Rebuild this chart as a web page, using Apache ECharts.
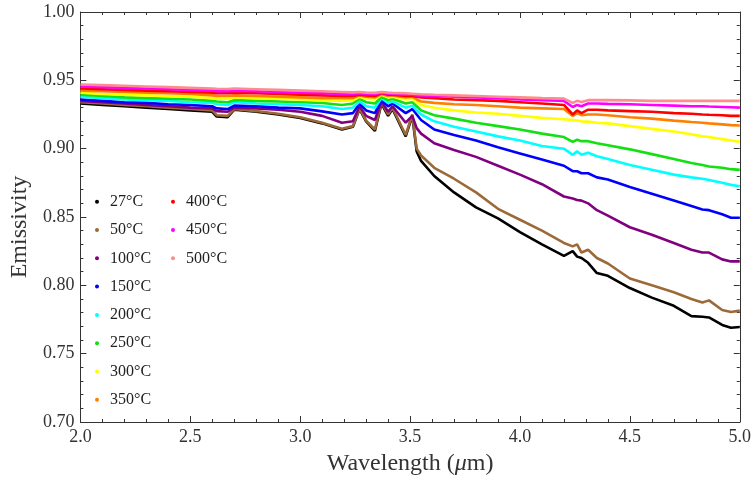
<!DOCTYPE html>
<html>
<head>
<meta charset="utf-8">
<script src="https://cdn.jsdelivr.net/npm/echarts@6/dist/echarts.min.js"></script>
<style>html,body{margin:0;padding:0;background:#fff}#c{width:754px;height:483px}</style>
</head>
<body>
<div id="c"></div>
<script>
const wavelength = [2.00,2.10,2.20,2.30,2.40,2.50,2.60,2.62,2.67,2.70,2.80,2.90,3.00,3.10,3.19,3.24,3.27,3.30,3.34,3.37,3.40,3.42,3.48,3.51,3.53,3.55,3.61,3.70,3.80,3.90,4.00,4.10,4.20,4.24,4.26,4.28,4.31,4.35,4.40,4.50,4.60,4.70,4.78,4.83,4.86,4.92,4.96,5.00];

const e27 = [0.933,0.932,0.931,0.930,0.929,0.928,0.927,0.9235,0.923,0.9285,0.927,0.925,0.9225,0.9185,0.914,0.916,0.929,0.920,0.913,0.933,0.924,0.929,0.909,0.924,0.898,0.891,0.880,0.868,0.857,0.849,0.839,0.830,0.8215,0.825,0.821,0.820,0.8165,0.809,0.807,0.798,0.791,0.785,0.7775,0.777,0.7765,0.771,0.769,0.7695];
const e50 = [0.934,0.933,0.932,0.931,0.930,0.929,0.928,0.9245,0.924,0.929,0.9275,0.9255,0.923,0.919,0.9145,0.9165,0.9295,0.9205,0.914,0.934,0.925,0.930,0.910,0.925,0.900,0.895,0.886,0.878,0.868,0.856,0.848,0.840,0.831,0.8285,0.830,0.824,0.826,0.820,0.816,0.805,0.800,0.795,0.790,0.7875,0.789,0.782,0.7805,0.7815];
const e100 = [0.935,0.934,0.933,0.932,0.931,0.930,0.9295,0.9275,0.927,0.930,0.9295,0.9285,0.927,0.924,0.919,0.920,0.931,0.924,0.921,0.9345,0.927,0.931,0.919,0.924,0.915,0.911,0.904,0.899,0.894,0.8875,0.881,0.874,0.865,0.8635,0.8625,0.862,0.860,0.855,0.851,0.8425,0.837,0.831,0.826,0.824,0.824,0.819,0.8175,0.8175];
const e150 = [0.936,0.935,0.934,0.9335,0.9325,0.932,0.931,0.9295,0.929,0.9315,0.931,0.930,0.9295,0.9273,0.925,0.926,0.933,0.928,0.926,0.9355,0.931,0.933,0.926,0.929,0.925,0.921,0.914,0.910,0.906,0.901,0.8965,0.892,0.8875,0.8835,0.8835,0.882,0.882,0.879,0.8775,0.872,0.867,0.862,0.858,0.8555,0.855,0.852,0.8495,0.8495];
const e200 = [0.938,0.937,0.936,0.9355,0.935,0.934,0.9335,0.9325,0.932,0.934,0.933,0.9325,0.932,0.931,0.929,0.930,0.9345,0.931,0.930,0.937,0.9335,0.9345,0.930,0.9315,0.928,0.925,0.920,0.916,0.9125,0.909,0.906,0.902,0.900,0.8955,0.898,0.8955,0.897,0.8945,0.8925,0.888,0.8845,0.881,0.879,0.878,0.877,0.875,0.8735,0.8725];
const e250 = [0.9395,0.9385,0.9375,0.937,0.9365,0.936,0.935,0.9345,0.934,0.9355,0.935,0.9345,0.934,0.9334,0.932,0.933,0.9365,0.934,0.933,0.938,0.9355,0.9365,0.933,0.934,0.931,0.928,0.9245,0.922,0.919,0.9165,0.914,0.911,0.9085,0.905,0.9065,0.9055,0.9055,0.904,0.9025,0.8995,0.896,0.8925,0.8895,0.888,0.887,0.886,0.885,0.8845];
const e300 = [0.941,0.940,0.9395,0.939,0.9385,0.938,0.937,0.9366,0.9365,0.9375,0.937,0.9365,0.936,0.9355,0.935,0.9355,0.938,0.9365,0.936,0.9395,0.9375,0.938,0.936,0.9365,0.934,0.932,0.930,0.928,0.9265,0.9255,0.924,0.9225,0.9215,0.921,0.9205,0.920,0.9198,0.919,0.9185,0.9165,0.9145,0.9125,0.9105,0.909,0.9085,0.907,0.906,0.905];
const e350 = [0.9425,0.942,0.9415,0.941,0.9405,0.940,0.939,0.9386,0.9385,0.939,0.9385,0.938,0.9375,0.937,0.937,0.937,0.939,0.938,0.9375,0.940,0.9385,0.939,0.9375,0.938,0.936,0.9345,0.9335,0.9325,0.932,0.931,0.930,0.9295,0.929,0.924,0.926,0.9245,0.925,0.925,0.9245,0.923,0.922,0.9205,0.9195,0.919,0.9185,0.9178,0.9172,0.917];
const e400 = [0.944,0.9435,0.943,0.9425,0.942,0.9415,0.941,0.9406,0.9405,0.941,0.9405,0.940,0.9395,0.939,0.9385,0.9385,0.9395,0.939,0.9385,0.9405,0.9395,0.9395,0.9385,0.9385,0.938,0.9375,0.937,0.936,0.9355,0.935,0.934,0.933,0.932,0.925,0.928,0.926,0.9285,0.9285,0.928,0.9275,0.927,0.926,0.9255,0.925,0.9248,0.9245,0.924,0.924];
const e450 = [0.9455,0.945,0.9445,0.944,0.9435,0.943,0.9425,0.9421,0.942,0.9425,0.942,0.9415,0.941,0.9405,0.940,0.940,0.9405,0.940,0.9398,0.941,0.9402,0.940,0.9395,0.9395,0.939,0.939,0.9385,0.938,0.9375,0.937,0.936,0.9355,0.935,0.9305,0.932,0.931,0.933,0.933,0.9328,0.9325,0.932,0.9315,0.931,0.931,0.9308,0.9305,0.9303,0.930];
const e500 = [0.947,0.9465,0.946,0.9455,0.945,0.9445,0.944,0.9438,0.9437,0.944,0.9435,0.943,0.9425,0.942,0.9415,0.9412,0.9415,0.941,0.9408,0.9415,0.941,0.9408,0.9405,0.9402,0.940,0.9398,0.9394,0.939,0.9385,0.938,0.9375,0.937,0.9366,0.9335,0.935,0.9342,0.9355,0.9355,0.9355,0.9353,0.935,0.935,0.935,0.935,0.935,0.935,0.935,0.935];

const seriesNames = ['27°C','50°C','100°C','150°C','200°C','250°C','300°C','350°C','400°C','450°C','500°C'];
const seriesValues = [e27,e50,e100,e150,e200,e250,e300,e350,e400,e450,e500];
const seriesColors = ['#000000','#9c6a38','#800080','#0000ff','#00ffff','#12e012','#ffff00','#ff8000','#ff0000','#ff00ff','#ff8c8c'];

const xTicks = {min:2.0, max:5.0, interval:0.5};
const yTicks = {min:0.70, max:1.00, interval:0.05};

const FONT = '"Liberation Serif","DejaVu Serif",serif';
const chart = echarts.init(document.getElementById('c'), null, {renderer:'canvas'});

const axisLine = {show:true, lineStyle:{color:'#333', width:1}};
const tick = {show:true, inside:true, length:6, lineStyle:{color:'#333'}};
const minor = {show:true, splitNumber:5, length:3, lineStyle:{color:'#333'}};

const series = seriesNames.map((n,i)=>({
  name:n, type:'line', showSymbol:false, symbol:'circle', smooth:false,
  xAxisIndex:0, yAxisIndex:0,
  lineStyle:{color:seriesColors[i], width:2.6},
  itemStyle:{color:seriesColors[i]},
  data: wavelength.map((x,k)=>[x, seriesValues[i][k]])
}));

const legendCommon = {
  orient:'vertical', icon:'circle', itemWidth:16, itemHeight:4, itemGap:10.3, padding:0,
  textStyle:{fontFamily:FONT, fontSize:16, color:'#222', lineHeight:18}
};

chart.setOption({
  animation:false,
  backgroundColor:'#fff',
  grid:{left:78, right:13, top:12, bottom:61, containLabel:false},
  legend:[
    Object.assign({left:95, top:192.7, data:seriesNames.slice(0,8)}, legendCommon),
    Object.assign({left:171, top:192.7, data:seriesNames.slice(8)}, legendCommon)
  ],
  xAxis:[
    {type:'value', min:xTicks.min, max:xTicks.max, interval:xTicks.interval, position:'bottom',
     axisLine:axisLine, axisTick:tick, minorTick:minor, splitLine:{show:false},
     axisLabel:{fontFamily:FONT, fontSize:18, color:'#333', margin:6, formatter:v=>v.toFixed(1)},
     name:'{a|Wavelength (}{b|μ}{a|m)}', nameLocation:'middle', nameGap:30,
     nameTextStyle:{rich:{a:{fontFamily:FONT, fontSize:24, color:'#333'}, b:{fontFamily:FONT, fontSize:24, fontStyle:'italic', color:'#333'}}}},
    {type:'value', min:xTicks.min, max:xTicks.max, interval:xTicks.interval, position:'top',
     axisLine:axisLine, axisTick:tick, minorTick:minor, splitLine:{show:false}, axisLabel:{show:false}}
  ],
  yAxis:[
    {type:'value', min:yTicks.min, max:yTicks.max, interval:yTicks.interval, position:'left',
     axisLine:axisLine, axisTick:tick, minorTick:minor, splitLine:{show:false},
     axisLabel:{fontFamily:FONT, fontSize:18, color:'#333', margin:6, formatter:v=>v.toFixed(2)},
     name:'Emissivity', nameLocation:'middle', nameGap:44,
     nameTextStyle:{fontFamily:FONT, fontSize:24, color:'#333', padding:[0,20,0,0]}},
    {type:'value', min:yTicks.min, max:yTicks.max, interval:yTicks.interval, position:'right',
     axisLine:axisLine, axisTick:tick, minorTick:minor, splitLine:{show:false}, axisLabel:{show:false}}
  ],
  series:series
});
</script>
</body>
</html>
